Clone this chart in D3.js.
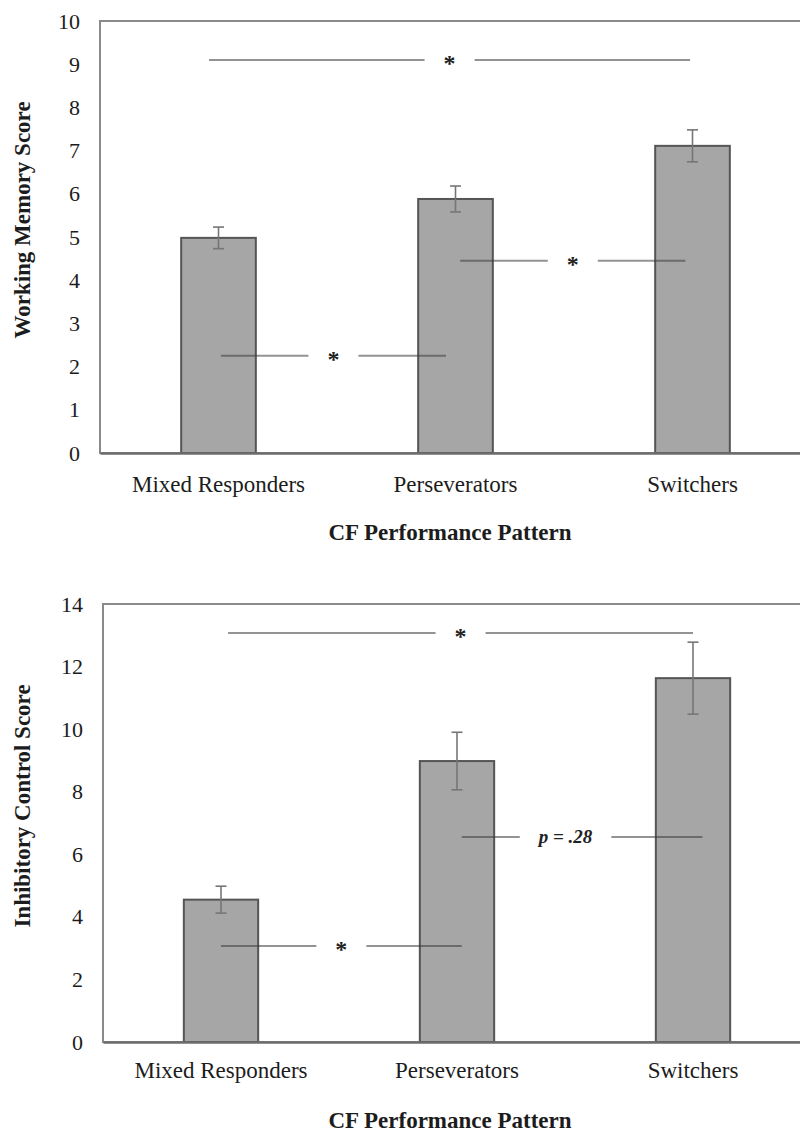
<!DOCTYPE html>
<html>
<head>
<meta charset="utf-8">
<script src="https://cdn.jsdelivr.net/npm/d3@7"></script>
<style>
  body { margin: 0; background: #fff; }
  svg { display: block; }
</style>
</head>
<body>
<svg id="fig" width="800" height="1135"></svg>
<script>
// Performance groups on the cognitive-flexibility task
const categories = ["Mixed Responders", "Perseverators", "Switchers"];

// Working memory: group means and standard errors
const wmMeans = [4.98, 5.88, 7.11];
const wmErrors = [0.25, 0.30, 0.37];
const wmTicks = [0, 1, 2, 3, 4, 5, 6, 7, 8, 9, 10];

// Inhibitory control: group means and standard errors
const icMeans = [4.55, 8.98, 11.63];
const icErrors = [0.43, 0.92, 1.15];
const icTicks = [0, 2, 4, 6, 8, 10, 12, 14];

// Pairwise comparisons: ends in category units (0 = left edge of first group), score level, label
const wmComparisons = [
  { from: 0.46, to: 2.49, level: 9.1, label: "*" },
  { from: 1.52, to: 2.47, level: 4.45, label: "*" },
  { from: 0.51, to: 1.46, level: 2.25, label: "*" }
];
const icComparisons = [
  { from: 0.53, to: 2.50, level: 13.07, label: "*" },
  { from: 1.52, to: 2.54, level: 6.55, label: "p = .28", at: 1.96 },
  { from: 0.50, to: 1.52, level: 3.07, label: "*" }
];

const svg = d3.select("#fig");
const SERIF = "'Liberation Serif', 'Times New Roman', serif";

function drawPanel(cfg) {
  const g = svg.append("g");
  const rows = categories.map((c, i) => ({ cat: c, mean: cfg.means[i], err: cfg.errors[i] }));

  const x = d3.scaleBand().domain(categories)
    .range([cfg.left, cfg.right]).paddingInner(0.685).paddingOuter(0.3425);
  const pos = d3.scaleLinear().domain([0, categories.length]).range([cfg.left, cfg.right]);
  const y = d3.scaleLinear().domain([0, d3.max(cfg.ticks)]).range([cfg.bottom, cfg.top]);

  // plot frame
  g.append("rect")
    .attr("x", cfg.left).attr("y", cfg.top)
    .attr("width", cfg.right - cfg.left).attr("height", cfg.bottom - cfg.top)
    .attr("fill", "none").attr("stroke", "#8a8a8a").attr("stroke-width", 2);

  // y axis labels
  const ya = g.append("g")
    .attr("transform", `translate(${cfg.left},0)`)
    .call(d3.axisLeft(y).tickValues(cfg.ticks).tickSize(0).tickPadding(20));
  ya.select(".domain").remove();
  ya.attr("font-family", SERIF).attr("font-size", 22).attr("color", "#1c1c1c");

  // bars
  g.selectAll("rect.bar").data(rows).join("rect")
    .attr("class", "bar")
    .attr("x", d => x(d.cat)).attr("width", x.bandwidth())
    .attr("y", d => y(d.mean)).attr("height", d => y(0) - y(d.mean))
    .attr("fill", "#a6a6a6").attr("stroke", "#555").attr("stroke-width", 2);

  // error bars
  const eb = g.selectAll("g.err").data(rows).join("g").attr("class", "err")
    .attr("stroke", "#767676").attr("stroke-width", 1.6);
  const cx = d => x(d.cat) + x.bandwidth() / 2;
  eb.append("line").attr("x1", cx).attr("x2", cx)
    .attr("y1", d => y(d.mean + d.err)).attr("y2", d => y(d.mean - d.err));
  eb.append("line").attr("x1", d => cx(d) - 5.5).attr("x2", d => cx(d) + 5.5)
    .attr("y1", d => y(d.mean + d.err)).attr("y2", d => y(d.mean + d.err));
  eb.append("line").attr("x1", d => cx(d) - 5.5).attr("x2", d => cx(d) + 5.5)
    .attr("y1", d => y(d.mean - d.err)).attr("y2", d => y(d.mean - d.err));

  // x axis
  const xa = g.append("g")
    .attr("transform", `translate(0,${cfg.bottom})`)
    .call(d3.axisBottom(x).tickSize(0).tickSizeOuter(0).tickPadding(cfg.labelPad));
  xa.attr("font-family", SERIF).attr("font-size", 23).attr("color", "#1c1c1c");
  xa.select(".domain").attr("stroke", "#6c6c6c").attr("stroke-width", 2.5);

  // comparison brackets
  cfg.comparisons.forEach(c => {
    const ly = y(c.level);
    const lx = pos(c.at !== undefined ? c.at : (c.from + c.to) / 2);
    const star = c.label === "*";
    const t = g.append("text")
      .attr("x", lx).attr("y", ly + (star ? 11 : 6))
      .attr("text-anchor", "middle")
      .attr("font-family", SERIF).attr("font-weight", "bold")
      .attr("font-style", star ? "normal" : "italic")
      .attr("font-size", star ? 24 : 19)
      .attr("fill", "#222")
      .text(c.label);
    const half = t.node().getComputedTextLength() / 2 + 19;
    [[pos(c.from), lx - half], [lx + half, pos(c.to)]].forEach(([a, b]) => {
      g.append("line").attr("x1", a).attr("x2", b).attr("y1", ly).attr("y2", ly)
        .attr("stroke", "#3a3a3a").attr("stroke-opacity", 0.55).attr("stroke-width", 2);
    });
  });

  // axis titles
  g.append("text")
    .attr("transform", `translate(22,${cfg.yTitleY}) rotate(-90)`)
    .attr("text-anchor", "middle").attr("dominant-baseline", "central")
    .attr("font-family", SERIF).attr("font-weight", "bold").attr("font-size", 23)
    .attr("fill", "#1c1c1c")
    .text(cfg.yTitle);
  g.append("text")
    .attr("x", 450).attr("y", cfg.xTitleY)
    .attr("text-anchor", "middle").attr("dominant-baseline", "central")
    .attr("font-family", SERIF).attr("font-weight", "bold").attr("font-size", 23)
    .attr("fill", "#1c1c1c")
    .text("CF Performance Pattern");
}

drawPanel({
  means: wmMeans, errors: wmErrors, ticks: wmTicks, comparisons: wmComparisons,
  left: 100, right: 811, top: 21, bottom: 453, labelPad: 23,
  yTitle: "Working Memory Score", yTitleY: 220, xTitleY: 532
});

drawPanel({
  means: icMeans, errors: icErrors, ticks: icTicks, comparisons: icComparisons,
  left: 103, right: 811, top: 604, bottom: 1042, labelPad: 20,
  yTitle: "Inhibitory Control Score", yTitleY: 806, xTitleY: 1120
});
</script>
</body>
</html>
